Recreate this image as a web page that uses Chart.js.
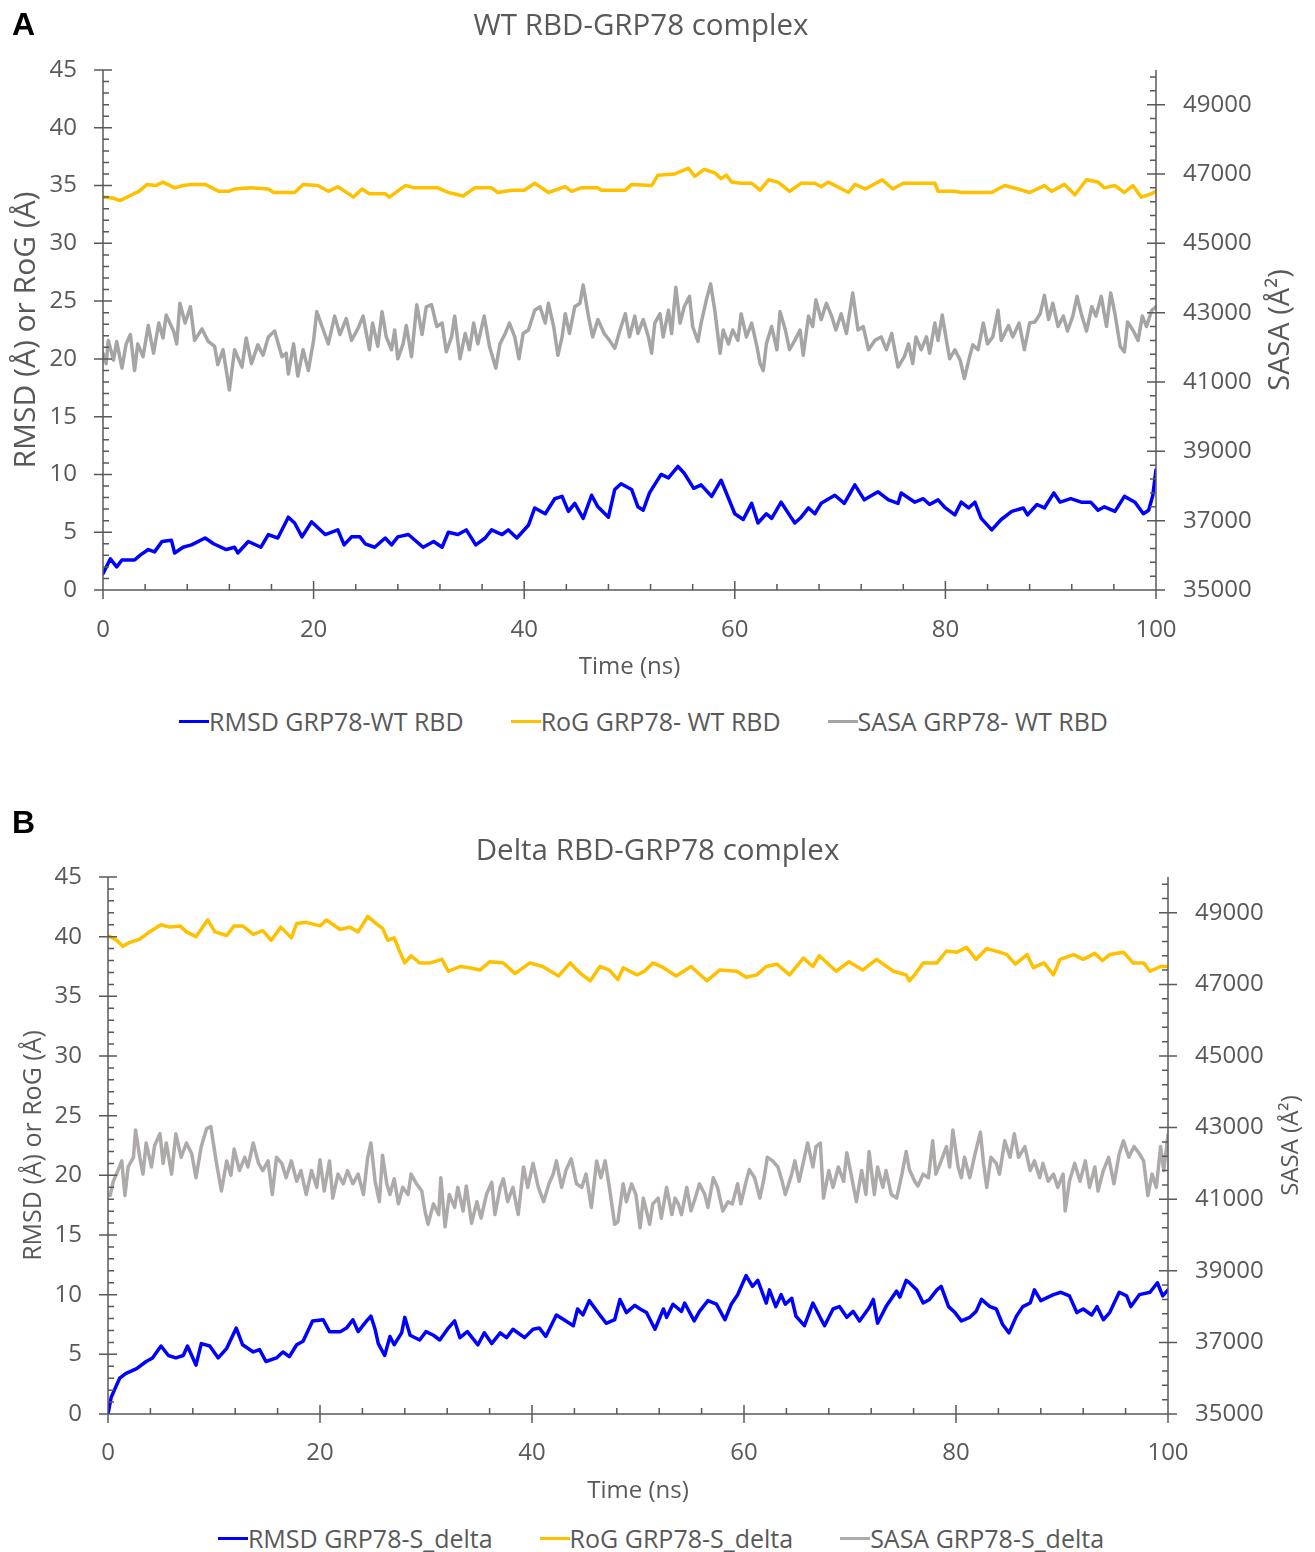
<!DOCTYPE html>
<html>
<head>
<meta charset="utf-8">
<title>RBD-GRP78 complex</title>
<script src="https://cdn.jsdelivr.net/npm/chart.js@4.4.1/dist/chart.umd.min.js"></script>
<style>
  html, body { margin:0; padding:0; background:#ffffff; width:1315px; height:1552px; overflow:hidden; position:relative; }
  canvas { position:absolute; left:0; }
  #cA { top:0; }
  #cB { top:790px; }
  .panel { position:absolute; left:12px; font-family:"Liberation Sans", Arial, sans-serif; font-weight:bold; font-size:32px; line-height:32px; color:#000; }
  .legend { position:absolute; left:0; display:flex; justify-content:center; gap:47px; font-family:"Open Sans", sans-serif; font-size:25px; line-height:30px; color:#595959; white-space:nowrap; }
  .legend .item { display:flex; align-items:center; }
  .legend .sw { display:inline-block; width:30px; height:3px; }
</style>
</head>
<body>
<canvas id="cA" width="1315" height="700"></canvas>
<canvas id="cB" width="1315" height="730"></canvas>
<div class="panel" style="top:8px">A</div>
<div class="panel" style="top:806px">B</div>
<div class="legend" id="legA" style="top:706px; width:1287px;"></div>
<div class="legend" id="legB" style="top:1523px; width:1322px;"></div>
<script>
// ---------------- tick labels & texts ----------------
const xTicks = [0, 20, 40, 60, 80, 100];
const yTicks = [0, 5, 10, 15, 20, 25, 30, 35, 40, 45];
const y2Ticks = [35000, 37000, 39000, 41000, 43000, 45000, 47000, 49000];
const titleA = 'WT RBD-GRP78 complex';
const titleB = 'Delta RBD-GRP78 complex';
const xTitle = 'Time (ns)';
const yTitle = 'RMSD (Å) or RoG (Å)';
const y2Title = 'SASA (Å²)';
const namesA = ['RMSD GRP78-WT RBD', 'RoG GRP78- WT RBD', 'SASA GRP78- WT RBD'];
const namesB = ['RMSD GRP78-S_delta', 'RoG GRP78-S_delta', 'SASA GRP78-S_delta'];

// ---------------- series (time ns, value) ----------------
const rmsdA = [[0,1.4],[0.7,2.7],[1.3,2.0],[1.8,2.6],[3,2.6],[3.5,3.0],[4.3,3.5],[4.9,3.3],[5.6,4.2],[6.5,4.3],[6.8,3.2],[7.6,3.7],[8.4,3.9],[9.7,4.5],[10.5,4.0],[11.7,3.5],[12.5,3.7],[12.8,3.2],[13.8,4.2],[15,3.7],[15.7,4.8],[16.6,4.5],[17.6,6.3],[18.2,5.8],[18.9,4.6],[19.8,5.9],[21.1,4.8],[22.3,5.2],[22.9,3.9],[23.6,4.6],[24.4,4.6],[24.9,4.0],[25.8,3.7],[26.8,4.5],[27.4,3.9],[28,4.6],[29,4.8],[30.4,3.7],[31.4,4.2],[32.2,3.7],[32.8,5.0],[33.7,4.8],[34.5,5.2],[35.4,3.9],[36.3,4.5],[36.9,5.2],[37.9,4.8],[38.5,5.2],[39.3,4.5],[40.4,5.6],[41,7.1],[42,6.6],[42.9,7.9],[43.6,8.1],[44.2,6.8],[44.8,7.5],[45.6,6.2],[46.4,8.2],[47,7.2],[48,6.3],[48.6,8.7],[49.2,9.2],[50.2,8.7],[50.8,7.2],[51.3,6.9],[51.9,8.4],[53,10.0],[53.7,9.7],[54.6,10.7],[55.2,10.1],[56.1,8.8],[56.8,9.1],[57.8,8.1],[58.7,9.5],[60,6.6],[60.8,6.1],[61.6,7.5],[62.2,5.8],[63,6.6],[63.5,6.2],[64.4,7.6],[65.4,6.2],[65.7,5.8],[66.3,6.3],[67,7.1],[67.6,6.6],[68.2,7.5],[69.5,8.2],[70.4,7.5],[71.4,9.1],[72.3,7.8],[73.6,8.5],[74.6,7.8],[75.5,7.5],[75.8,8.4],[77.1,7.6],[77.9,7.9],[78.5,7.4],[79.3,7.8],[80,7.1],[80.9,6.5],[81.5,7.6],[82.2,7.1],[82.8,7.6],[83.4,6.2],[84.4,5.2],[85.3,6.1],[86.3,6.8],[87.4,7.1],[87.8,6.5],[88.7,7.4],[89.4,7.1],[90.3,8.4],[90.9,7.6],[91.9,7.9],[92.9,7.6],[93.8,7.6],[94.5,6.9],[95.1,7.2],[96.1,6.8],[97,8.1],[98,7.6],[98.8,6.6],[99.3,6.9],[99.7,8.2],[100,10.4]];

const rogA = [[0,34.0],[1,33.9],[1.6,33.7],[2.5,34.1],[3.4,34.5],[4.2,35.1],[5.0,35.0],[5.7,35.3],[6.8,34.8],[7.6,35.0],[8.4,35.1],[9.7,35.1],[11,34.5],[11.9,34.5],[12.5,34.7],[14,34.8],[15.7,34.7],[16.2,34.4],[18.2,34.4],[19,35.1],[20.4,35.0],[21.4,34.5],[22.3,34.9],[23.8,34.0],[24.6,34.7],[25.3,34.3],[26.8,34.3],[27.2,34.0],[28.7,35.0],[29.6,34.8],[31.8,34.8],[32.8,34.4],[34.2,34.1],[35.3,34.8],[36.9,34.8],[37.5,34.4],[38.8,34.6],[40,34.6],[41,35.2],[42.3,34.4],[43.9,34.9],[44.5,34.5],[45.4,34.8],[47,34.8],[47.3,34.6],[49.6,34.6],[50.2,35.1],[52.1,35.0],[52.7,35.9],[54.3,36.0],[55.6,36.5],[56.2,35.8],[57.1,36.4],[58.1,36.1],[58.7,35.6],[59.2,35.9],[59.7,35.3],[60.6,35.2],[61.6,35.2],[62.4,34.6],[63.2,35.5],[64.1,35.3],[65.2,34.5],[66.3,35.2],[67.6,35.2],[68.2,34.9],[68.9,35.3],[70.8,34.4],[71.4,35.1],[72.4,34.7],[74,35.5],[75,34.7],[76,35.2],[77.5,35.2],[79,35.2],[79.3,34.5],[80.9,34.5],[81.5,34.4],[84.4,34.4],[85.6,35.0],[86.9,34.7],[88,34.4],[89.4,35.0],[90.1,34.5],[91.3,35.1],[92.3,34.2],[93.4,35.5],[94.5,35.3],[95.1,34.8],[96.1,35.0],[97,34.4],[97.8,35.0],[98.6,34.0],[99.6,34.3],[100,34.5]];

const sasaA = [[0,41830],[0.3,41530],[0.5,42200],[1,41630],[1.3,42170],[1.8,41400],[2.2,42100],[2.6,42370],[3,41330],[3.3,42100],[3.8,41730],[4.3,42630],[4.8,41830],[5.3,42700],[5.7,42270],[6,42930],[6.7,42470],[7,42100],[7.3,43270],[7.8,42700],[8.3,43170],[8.7,42200],[9.4,42530],[10,42170],[10.6,42030],[10.9,41500],[11.4,41930],[12,40770],[12.5,41930],[13.2,41430],[13.6,42270],[14.1,41530],[14.7,42070],[15.2,41770],[15.7,42300],[16.3,42470],[17,41730],[17.4,41830],[17.6,41230],[18.1,42100],[18.5,41170],[19,41930],[19.5,41330],[20,42200],[20.3,43030],[20.8,42600],[21.4,42100],[22,42900],[22.5,42370],[23.1,42830],[23.6,42200],[24.2,42530],[24.7,42900],[25.3,41930],[25.6,42700],[26.1,42030],[26.5,43030],[26.9,42300],[27.4,41930],[27.7,42500],[28,41670],[28.5,42100],[28.8,42630],[29.3,41730],[29.8,43230],[30.3,42370],[30.7,43170],[31.2,43230],[31.7,42600],[32.2,42700],[32.6,41870],[33.1,42300],[33.4,42900],[33.9,41670],[34.4,42400],[34.8,41930],[35.2,42700],[35.6,42100],[36.2,42900],[36.7,42030],[37.3,41400],[37.7,42100],[38.2,42400],[38.6,42700],[39.1,42300],[39.5,41670],[39.9,42400],[40.4,42500],[41,43070],[41.5,43170],[42,42700],[42.3,43270],[42.8,42600],[43.2,41770],[43.6,42300],[43.9,42970],[44.3,42400],[44.8,43170],[45.3,43270],[45.6,43800],[46.1,42900],[46.5,42300],[47,42800],[47.6,42400],[48.1,42200],[48.6,41970],[49.1,42500],[49.6,42970],[50,42300],[50.5,42900],[50.8,42400],[51.3,42800],[51.8,42300],[52.1,41830],[52.4,42700],[52.9,42970],[53.2,42300],[53.7,43070],[54,42400],[54.4,43730],[54.8,42700],[55.2,43170],[55.7,43470],[56,42600],[56.5,42170],[56.8,42700],[57.3,43370],[57.7,43830],[58.1,43070],[58.6,41830],[58.9,42500],[59.4,42100],[59.8,42500],[60.3,42200],[60.6,42970],[61.1,42300],[61.6,42700],[62.1,42030],[62.4,41530],[62.7,41330],[63,42100],[63.5,42600],[64,41930],[64.3,43030],[64.8,42500],[65.2,41930],[65.7,42200],[66.2,42500],[66.5,41770],[67,42900],[67.4,42600],[67.7,43370],[68.2,42800],[68.7,43270],[69.2,42900],[69.6,42500],[70.1,42970],[70.6,42400],[71.2,43570],[71.7,42500],[72.2,42600],[72.7,41930],[73.3,42200],[73.9,42300],[74.4,41930],[74.9,42400],[75.5,41430],[76.1,41730],[76.5,42100],[76.9,41530],[77.2,42300],[77.7,41930],[78.2,42300],[78.5,41830],[79,42700],[79.3,42200],[79.7,42930],[80.1,42200],[80.4,41670],[80.9,41930],[81.4,41630],[81.8,41100],[82.3,41730],[82.6,42070],[83.1,41930],[83.6,42700],[84,42100],[84.5,42300],[85,43070],[85.3,42200],[86,42630],[86.4,42300],[87,42700],[87.5,41930],[88,42700],[88.5,42730],[89,42970],[89.4,43500],[89.8,42800],[90.2,43270],[90.7,42600],[91.2,42900],[91.6,42470],[92.1,42900],[92.5,43470],[92.9,42970],[93.4,42470],[93.9,43170],[94.3,42900],[94.8,43470],[95.3,42600],[95.7,43570],[96.1,42970],[96.6,42030],[97,41870],[97.3,42730],[97.8,42500],[98.3,42200],[98.7,42900],[99.1,42600],[99.6,43070],[100,43170]];

const rmsdB = [[0,0.0],[0.3,1.4],[0.6,2.0],[1.1,3.0],[1.7,3.4],[2.7,3.8],[3.6,4.4],[4.2,4.7],[5,5.7],[5.7,4.9],[6.4,4.7],[7.1,4.9],[7.5,5.7],[8.3,4.1],[8.8,5.9],[9.6,5.7],[10.4,4.7],[11.2,5.5],[12.1,7.2],[12.7,5.8],[13.7,5.2],[14.3,5.4],[14.9,4.4],[15.9,4.7],[16.5,5.2],[17.1,4.8],[17.8,5.8],[18.4,6.1],[19.3,7.8],[20.3,7.9],[20.9,6.9],[21.9,6.9],[22.5,7.2],[23.1,7.9],[23.6,6.9],[24.4,7.8],[24.8,8.2],[25.2,7.1],[25.5,5.9],[26.1,4.9],[26.6,6.5],[27,5.8],[27.7,6.8],[28,8.1],[28.5,6.6],[29.4,6.2],[30,6.9],[30.7,6.6],[31.3,6.2],[32.1,7.2],[32.7,7.8],[33.2,6.4],[33.9,6.9],[34.9,5.8],[35.5,6.8],[36.2,5.9],[37,6.8],[37.6,6.4],[38.2,7.1],[39.3,6.4],[40.1,7.1],[40.7,7.2],[41.3,6.5],[42.3,8.3],[43.2,7.8],[43.9,7.4],[44.3,8.8],[44.8,8.3],[45.4,9.5],[46.4,8.3],[47,7.6],[47.8,7.9],[48.3,9.6],[48.9,8.5],[49.7,9.1],[50.2,8.8],[50.8,8.5],[51.6,7.1],[52.4,8.8],[52.7,8.1],[53.3,9.2],[54.1,8.6],[54.4,9.3],[55.3,7.8],[55.8,8.6],[56.6,9.5],[57.4,9.2],[58.2,7.9],[58.8,9.2],[59.4,10.0],[60.2,11.6],[60.8,10.7],[61.3,11.2],[62.1,9.3],[62.4,10.4],[63,9.0],[63.5,10.0],[63.9,9.2],[64.5,9.7],[64.9,8.2],[65.7,7.4],[66.5,9.3],[67.3,7.9],[67.6,7.4],[68.4,8.8],[69,9.0],[69.7,8.1],[70.3,8.6],[70.9,7.8],[71.8,8.9],[72.2,9.6],[72.6,7.6],[73.4,9.0],[74.4,10.3],[74.7,9.8],[75.3,11.2],[75.6,11.0],[76.3,10.4],[76.9,9.3],[77.5,9.6],[78.2,10.4],[78.6,10.7],[79.3,9.0],[79.9,8.5],[80.5,7.8],[81.3,8.1],[81.9,8.6],[82.4,9.6],[83.2,9.0],[83.8,8.8],[84.4,7.5],[85,6.8],[85.7,8.2],[86.3,9.0],[87,9.3],[87.4,10.4],[88,9.5],[89.2,10.0],[89.9,10.2],[90.7,9.9],[91.4,8.5],[92,8.8],[92.8,8.3],[93.3,9.0],[93.9,7.9],[94.5,8.5],[95.4,10.2],[96.1,9.9],[96.5,9.0],[97.3,10.0],[98.3,10.2],[99,11.0],[99.5,9.9],[100,10.4]];

const rogB = [[0,40.1],[0.8,39.7],[1.4,39.2],[2,39.5],[3,39.8],[3.9,40.4],[5,41.0],[5.8,40.8],[6.8,40.9],[7.4,40.4],[8.3,40.0],[9.4,41.4],[10.1,40.4],[11.2,40.1],[11.9,40.9],[12.7,40.9],[13.7,40.2],[14.6,40.5],[15.4,39.7],[16.3,40.8],[17.3,39.9],[17.8,41.1],[18.7,41.2],[20,40.9],[20.6,41.4],[21.9,40.6],[22.8,40.8],[23.6,40.4],[24.5,41.7],[25.3,41.1],[25.9,40.7],[26.4,39.7],[27,39.9],[27.5,38.8],[28,37.8],[28.6,38.4],[29.4,37.8],[30.4,37.8],[31.5,38.1],[32.1,37.1],[33.2,37.5],[34.1,37.4],[35.1,37.2],[36,37.9],[37.3,37.8],[38.4,36.9],[39.8,37.8],[41,37.5],[42.5,36.7],[43.6,37.8],[44.6,36.9],[45.5,36.3],[46.4,37.5],[47.3,37.2],[48.1,36.4],[48.6,37.4],[49.9,36.8],[50.6,37.1],[51.4,37.8],[52.4,37.4],[53.6,36.7],[55,37.5],[56.5,36.3],[57.7,37.2],[59.3,37.1],[60.2,36.6],[61.2,36.8],[62.1,37.5],[63.1,37.7],[64.3,36.8],[65.6,38.2],[66.5,37.5],[67.1,38.4],[68.7,37.1],[69.9,37.9],[71.2,37.2],[72.5,38.1],[74.1,37.1],[75.3,36.8],[75.6,36.3],[76.1,36.8],[76.9,37.8],[78.2,37.8],[79.1,38.8],[80.1,38.7],[81,39.1],[81.9,38.1],[82.9,39.0],[84.1,38.7],[84.8,38.5],[85.6,37.7],[86.7,38.5],[87.3,37.4],[88.3,37.8],[89.2,36.8],[89.8,38.1],[91.1,38.5],[92,38.1],[93.1,38.6],[93.8,38.0],[94.5,38.5],[95.8,38.7],[96.7,37.8],[97.7,37.8],[98.3,37.1],[99.3,37.5],[100,37.5]];

const sasaB = [[0.2,41100],[0.5,41500],[0.8,41700],[1.3,42070],[1.6,41100],[1.9,41900],[2.4,42170],[2.6,42930],[3,42170],[3.3,41700],[3.6,42570],[4.1,41900],[4.4,42500],[4.9,42830],[5.2,42000],[5.5,42570],[6,41700],[6.4,42830],[6.9,42170],[7.4,42570],[7.9,42270],[8.3,41600],[8.8,42470],[9.3,42970],[9.7,43030],[10.2,42070],[10.7,41230],[11.2,42070],[11.6,41670],[11.9,42400],[12.4,41800],[12.9,42170],[13.2,41900],[13.7,42570],[14.2,42000],[14.6,41800],[15.1,42070],[15.5,41130],[15.9,42170],[16.4,42000],[16.8,41600],[17.3,42070],[17.8,41500],[18.2,41800],[18.7,41130],[19.2,41800],[19.7,41330],[20,42100],[20.4,41230],[20.9,42070],[21.2,41030],[21.7,41700],[22.2,41430],[22.6,41800],[23.1,41430],[23.6,41700],[24.1,41130],[24.5,42170],[24.8,42570],[25.2,41500],[25.6,40930],[25.9,42230],[26.3,41430],[26.6,41130],[27,41570],[27.4,40870],[27.8,41330],[28.3,41130],[28.6,41700],[29.1,41430],[29.6,41230],[29.9,40670],[30.2,40300],[30.7,40870],[31.2,40570],[31.4,41600],[31.8,40230],[32.2,41130],[32.7,40770],[33,41330],[33.5,40670],[33.8,41370],[34.3,40330],[34.8,40930],[35.2,40470],[35.7,41130],[36.2,41470],[36.5,40570],[37,41330],[37.3,41570],[37.7,40930],[38.2,41330],[38.7,40570],[39.2,41900],[39.6,41330],[40.1,42000],[40.6,41330],[41.1,40930],[41.6,41430],[42,41700],[42.3,42070],[42.8,41330],[43.2,41800],[43.7,42130],[44.2,41430],[44.7,41330],[45.1,41700],[45.6,40770],[46.1,42070],[46.5,41600],[46.9,42070],[47.3,41330],[47.8,40300],[48.1,40370],[48.6,41430],[48.9,40930],[49.4,41430],[49.8,41130],[50.2,40200],[50.5,41030],[50.8,40670],[51.1,40300],[51.4,40870],[51.9,41030],[52.2,40470],[52.7,41330],[53.2,40570],[53.5,41030],[53.8,40870],[54.1,40570],[54.6,41330],[55,40670],[55.4,41030],[55.8,41430],[56.3,41130],[56.6,40770],[57.1,41600],[57.5,41330],[58,40670],[58.5,40930],[58.9,40870],[59.4,41430],[59.7,40870],[60.2,41500],[60.5,41830],[61,41600],[61.5,41030],[61.9,41600],[62.2,42170],[62.7,42070],[63.2,41900],[63.6,41500],[63.9,41130],[64.5,41700],[64.8,42070],[65.2,41500],[65.7,42170],[66,42570],[66.5,41900],[66.8,42470],[67.2,42570],[67.5,41030],[68,41800],[68.4,41330],[68.9,41900],[69.4,41500],[69.7,42300],[70.1,41700],[70.6,40930],[71.1,41800],[71.5,41130],[71.8,42330],[72.3,41130],[72.6,41900],[73.1,41330],[73.4,41800],[73.9,41130],[74.4,41030],[74.9,41700],[75.3,42330],[75.6,41830],[76.1,41500],[76.4,41370],[76.9,41700],[77.4,41600],[77.8,42630],[78.1,41700],[78.6,42070],[79.1,42470],[79.4,41900],[79.7,42930],[80.2,41900],[80.5,41600],[80.8,42170],[81.3,41600],[81.8,42270],[82.3,42870],[82.6,42000],[82.9,41330],[83.3,42170],[83.8,42000],[84.1,41700],[84.6,42630],[85.1,42170],[85.5,42830],[85.9,42170],[86.5,42470],[87,41800],[87.4,42070],[87.9,41600],[88.2,42000],[88.7,41500],[89.2,41700],[89.6,41330],[90.1,41700],[90.3,40670],[90.7,41500],[91.2,42000],[91.7,41500],[92.2,42070],[92.6,41330],[93.1,41900],[93.4,41230],[93.9,41800],[94.4,42170],[94.9,41430],[95.4,42270],[95.8,42630],[96.3,42170],[96.8,42470],[97.3,42270],[97.7,42070],[98.1,41100],[98.5,41700],[98.9,41330],[99.3,42470],[99.6,41800],[100,42800]];

// ---------------- rendering ----------------
const FONT = '"Open Sans", "DejaVu Sans", sans-serif';
const TXT = '#595959';
Chart.defaults.font.family = FONT;

const toXY = arr => arr.map(p => ({ x: p[0], y: p[1] }));

const axisPlugin = {
  id: 'customAxes',
  afterDatasetsDraw(chart, args, o) {
    const { ctx, chartArea: ca, scales } = chart;
    const xs = scales.x, yl = scales.y, yr = scales.y2;
    const M = o.major, m = o.minor;
    ctx.save();
    ctx.strokeStyle = o.color;
    ctx.lineWidth = o.width;
    ctx.beginPath();
    const seg = (x1, y1, x2, y2) => { ctx.moveTo(x1, y1); ctx.lineTo(x2, y2); };
    seg(ca.left, ca.top, ca.left, ca.bottom);
    seg(ca.right, ca.top, ca.right, ca.bottom);
    seg(ca.left - M, ca.bottom, ca.right + 1, ca.bottom);
    for (let v = xs.min; v <= xs.max + 1e-9; v += o.xMinor) {
      const x = xs.getPixelForValue(v); seg(x, ca.bottom - m, x, ca.bottom);
    }
    xTicks.forEach(v => { const x = xs.getPixelForValue(v); seg(x, ca.bottom - M, x, ca.bottom + M); });
    for (let v = yl.min; v <= yl.max + 1e-9; v += o.yMinor) {
      const y = yl.getPixelForValue(v); seg(ca.left, y, ca.left + m, y);
    }
    yTicks.forEach(v => { const y = yl.getPixelForValue(v); seg(ca.left - M, y, ca.left + M, y); });
    for (let v = yr.min; v < yr.max; v += o.y2Minor) {
      const y = yr.getPixelForValue(v); seg(ca.right - m, y, ca.right, y);
    }
    y2Ticks.forEach(v => { const y = yr.getPixelForValue(v); seg(ca.right - M, y, ca.right + M, y); });
    ctx.stroke();
    // right axis title, reading bottom-to-top
    ctx.fillStyle = TXT;
    ctx.font = o.rightTitleSize + 'px ' + FONT;
    ctx.textAlign = 'center';
    ctx.textBaseline = 'middle';
    ctx.translate(o.rightTitleX, (ca.top + ca.bottom) / 2);
    ctx.rotate(-Math.PI / 2);
    ctx.fillText(y2Title, 0, 0);
    ctx.restore();
  }
};

function ds(label, arr, axis, color) {
  return { label, data: toXY(arr), yAxisID: axis, borderColor: color, backgroundColor: color,
           borderWidth: 3.5, pointRadius: 0, fill: false, tension: 0 };
}

function build(id, c) {
  return new Chart(document.getElementById(id), {
    type: 'line',
    data: { datasets: [
      ds(c.names[0], c.rmsd, 'y', c.colors[0]),
      ds(c.names[1], c.rog, 'y', c.colors[1]),
      ds(c.names[2], c.sasa, 'y2', c.colors[2])
    ] },
    options: {
      responsive: false, animation: false, events: [],
      layout: { padding: { left: 0, right: c.padRight, top: 0, bottom: 0 } },
      elements: { line: { borderJoinStyle: 'round', borderCapStyle: 'round' } },
      plugins: {
        legend: { display: false },
        tooltip: { enabled: false },
        title: { display: true, text: c.title, color: TXT,
                 font: { family: FONT, size: 29.5, weight: 'normal' },
                 padding: { top: c.titleTop, bottom: c.titleBottom } },
        customAxes: { color: '#595959', width: 1.5, major: 9, minor: 6,
                      xMinor: 4, yMinor: 1, y2Minor: 400,
                      rightTitleX: c.rightTitleX, rightTitleSize: c.rightTitleSize }
      },
      scales: {
        x: { type: 'linear', min: 0, max: 100,
             afterBuildTicks: s => { s.ticks = xTicks.map(v => ({ value: v })); },
             afterFit: s => { s.height = c.xHeight; },
             grid: { display: false, drawTicks: false }, border: { display: false },
             ticks: { color: TXT, font: { family: FONT, size: 24 }, padding: c.xTickPad,
                      maxRotation: 0, autoSkip: false, callback: v => String(v) },
             title: { display: true, text: xTitle, color: TXT, font: { family: FONT, size: 24 },
                      padding: { top: 0, bottom: c.xTitleBottom } } },
        y: { type: 'linear', position: 'left', min: 0, max: 45,
             afterBuildTicks: s => { s.ticks = yTicks.map(v => ({ value: v })); },
             afterFit: s => { s.width = c.yWidth; },
             grid: { display: false, drawTicks: false }, border: { display: false },
             ticks: { color: TXT, font: { family: FONT, size: 24 }, padding: 26, autoSkip: false,
                      callback: v => String(v) },
             title: { display: true, text: yTitle, color: TXT, font: { family: FONT, size: c.leftTitleSize },
                      padding: { top: c.yTitleTop, bottom: 0 } } },
        y2: { type: 'linear', position: 'right', min: 35000, max: 50000,
              afterBuildTicks: s => { s.ticks = y2Ticks.map(v => ({ value: v })); },
              afterFit: s => { s.width = c.y2Width; },
              grid: { display: false, drawTicks: false }, border: { display: false },
              ticks: { color: TXT, font: { family: FONT, size: 24 }, padding: 27, autoSkip: false,
                       callback: v => String(v) } }
      }
    },
    plugins: [axisPlugin]
  });
}

build('cA', { names: namesA, rmsd: rmsdA, rog: rogA, sasa: sasaA,
  colors: ['#0000FF', '#FFC000', '#A5A5A5'], title: titleA,
  padRight: 33, titleTop: 9, titleBottom: 25.6, xHeight: 110, xTickPad: 26, xTitleBottom: 18.6,
  yWidth: 103, y2Width: 126, yTitleTop: 8, leftTitleSize: 30, rightTitleSize: 29, rightTitleX: 1281 });

build('cB', { names: namesB, rmsd: rmsdB, rog: rogB, sasa: sasaB,
  colors: ['#0000FF', '#FFC000', '#AEAAAA'], title: titleB,
  padRight: 0, titleTop: 44, titleBottom: 7.6, xHeight: 106, xTickPad: 25, xTitleBottom: 14.6,
  yWidth: 108, y2Width: 147, yTitleTop: 19, leftTitleSize: 25, rightTitleSize: 24, rightTitleX: 1291 });

function legend(el, names, colors) {
  const box = document.getElementById(el);
  names.forEach((n, i) => {
    const item = document.createElement('div'); item.className = 'item';
    const sw = document.createElement('span'); sw.className = 'sw'; sw.style.background = colors[i];
    const tx = document.createElement('span'); tx.textContent = n;
    item.appendChild(sw); item.appendChild(tx); box.appendChild(item);
  });
}
legend('legA', namesA, ['#0000FF', '#FFC000', '#A5A5A5']);
legend('legB', namesB, ['#0000FF', '#FFC000', '#AEAAAA']);
</script>
</body>
</html>
